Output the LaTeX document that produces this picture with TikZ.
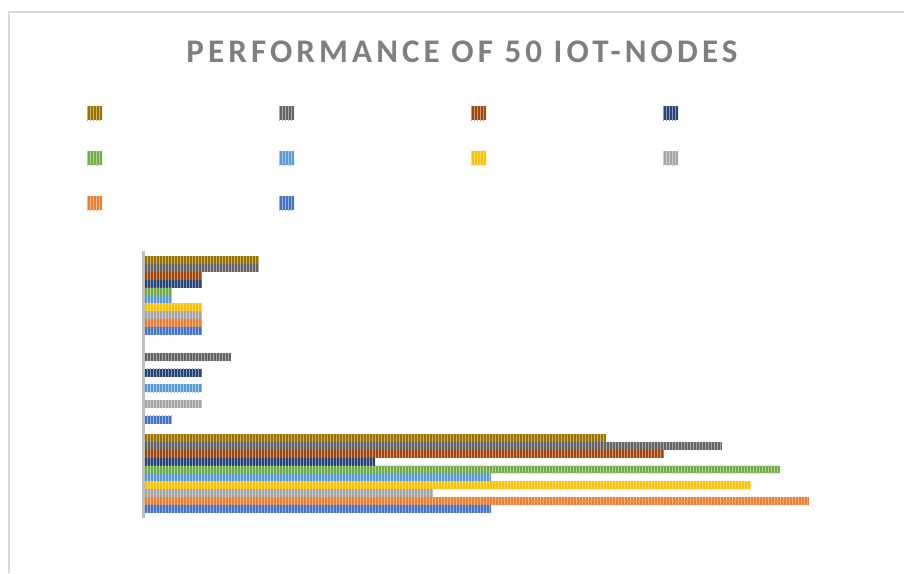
\documentclass[tikz,border=0pt]{standalone}
\usepackage{fontspec}
\setmainfont{Carlito}
\usetikzlibrary{patterns.meta}
\definecolor{cgold}{HTML}{997300}
\definecolor{cdgray}{HTML}{636363}
\definecolor{cbrown}{HTML}{9E480E}
\definecolor{cdblue}{HTML}{264478}
\definecolor{cgreen}{HTML}{70AD47}
\definecolor{clblue}{HTML}{5B9BD5}
\definecolor{cyellow}{HTML}{FFC000}
\definecolor{cgray}{HTML}{A5A5A5}
\definecolor{corange}{HTML}{ED7D31}
\definecolor{cblue}{HTML}{4472C4}
\definecolor{framecol}{HTML}{D9D9D9}
\definecolor{axiscol}{HTML}{BFBFBF}
\definecolor{titlecol}{HTML}{7F7F7F}
\tikzset{
  stripefill/.style={fill=#1, postaction={pattern={Lines[angle=90,distance=3pt,line width=1pt]}, pattern color=#1!55!white}},
  titletext/.style={anchor=base, inner sep=0pt, text=titlecol, font=\fontsize{33}{33}\selectfont\bfseries\addfontfeature{LetterSpace=12.5}}
}
\newcommand\mybarh[3]{\path[stripefill=#1] (145.3,#2) rectangle (#3,#2+7.83);}
\begin{document}
\begin{tikzpicture}[x=1pt,y=-1pt]
\useasboundingbox (0,0) rectangle (904,573);
\fill[white] (0,0) rectangle (904,573);
\draw[framecol, line width=1.6pt] (904,12.25) -- (9.25,12.25) -- (9.25,573);
\node[titletext] (title) at (462,62) {PERFORMANCE OF 50 IOT-NODES};
% legend swatches
\foreach \c/\col/\row in {cgold/0/0, cdgray/1/0, cbrown/2/0, cdblue/3/0,
  cgreen/0/1, clblue/1/1, cyellow/2/1, cgray/3/1, corange/0/2, cblue/1/2} {
  \path[stripefill=\c] ({87+192*\col},{106+45*\row}) rectangle ++(15,14);
}
% axis
\draw[axiscol, line width=3pt] (143.8,250.5) -- (143.8,517.7);
% group 1
\foreach \c/\i/\e in {cgold/0/259.3, cdgray/1/259.3, cbrown/2/201.7, cdblue/3/201.7,
  cgreen/4/172.3, clblue/5/172.3, cyellow/6/201.7, cgray/7/201.7, corange/8/201.7, cblue/9/201.7} {
  \pgfmathsetmacro\yy{256.3+\i*7.83}
  \mybarh{\c}{\yy}{\e}
}
% group 2
\foreach \c/\i/\e in {cdgray/1/230.7, cdblue/3/201.7, clblue/5/201.7, cgray/7/201.7, cblue/9/172.3} {
  \pgfmathsetmacro\yy{345.3+\i*7.83}
  \mybarh{\c}{\yy}{\e}
}
% group 3
\foreach \c/\i/\e in {cgold/0/605.7, cdgray/1/722, cbrown/2/663.7, cdblue/3/375,
  cgreen/4/779.7, clblue/5/490.7, cyellow/6/751, cgray/7/432.7, corange/8/808.7, cblue/9/490.7} {
  \pgfmathsetmacro\yy{434.3+\i*7.83}
  \mybarh{\c}{\yy}{\e}
}
\end{tikzpicture}
\end{document}
